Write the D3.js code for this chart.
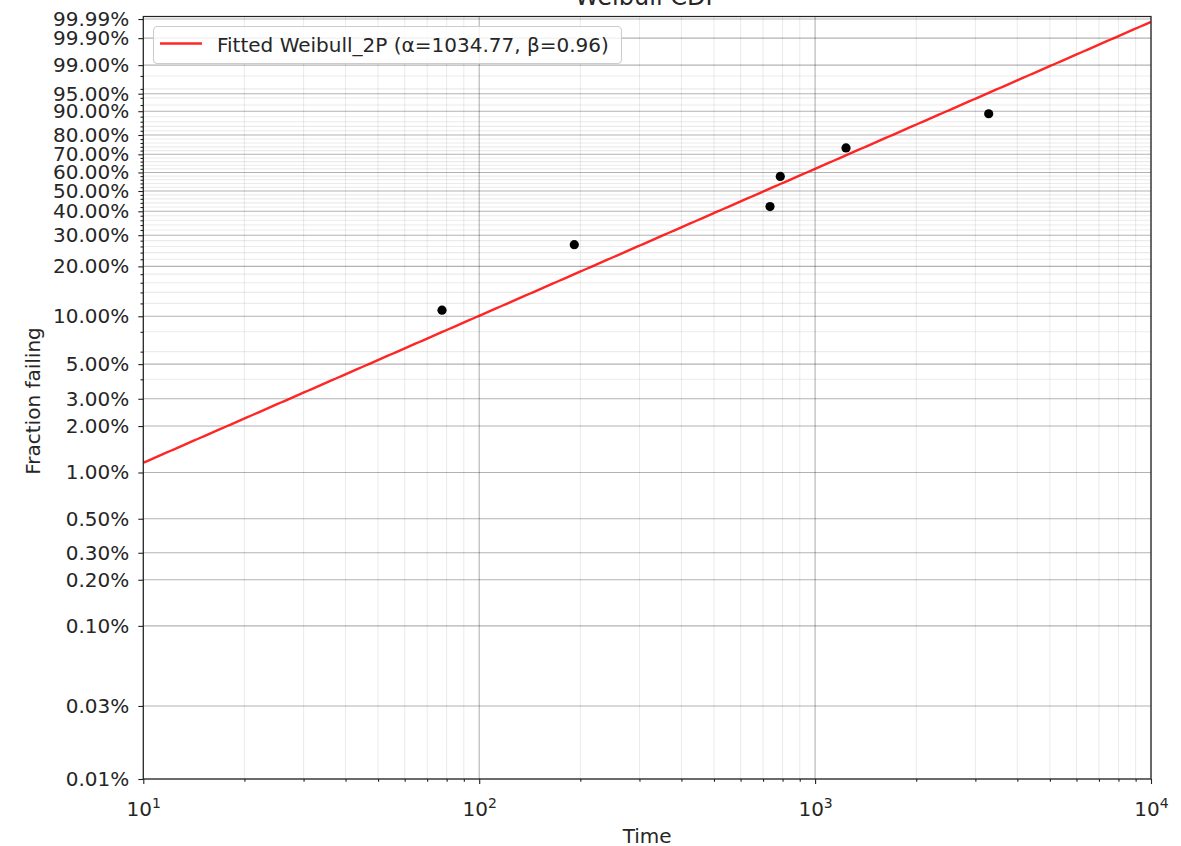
<!DOCTYPE html>
<html>
<head>
<meta charset="utf-8">
<script src="https://cdn.jsdelivr.net/npm/d3@7"></script>
<style>
  body { margin: 0; background: #fff; }
  text { font-family: "DejaVu Sans", sans-serif; fill: #262626; }
</style>
</head>
<body>
<svg id="chart" width="1181" height="846"></svg>
<script>
// Failure data (median-rank plotting positions)
const failureTimes = [77.5, 191.9, 734, 787.7, 1236, 3287];
const fractionFailing = [0.109, 0.266, 0.422, 0.578, 0.734, 0.891];

// Fitted Weibull 2-parameter model
const fitAlpha = 1034.77;
const fitBeta = 0.96;
const legendLabel = "Fitted Weibull_2P (α=1034.77, β=0.96)";

// Axis ticks
const xTickValues = [10, 100, 1000, 10000];
const xTickExponents = ["1", "2", "3", "4"];
const yTickValues = [0.0001, 0.0003, 0.001, 0.002, 0.003, 0.005, 0.01, 0.02, 0.03, 0.05,
                     0.1, 0.2, 0.3, 0.4, 0.5, 0.6, 0.7, 0.8, 0.9, 0.95, 0.99, 0.999, 0.9999];
const yLimits = [0.0001, 0.99993];

const svg = d3.select("#chart");
const W = 1181, H = 846;
const plot = { left: 143.3, right: 1151, top: 16.5, bottom: 779 };

svg.append("rect").attr("width", W).attr("height", H).attr("fill", "#fff");

// Weibull probability-paper transform
const weib = p => Math.log(-Math.log(1 - p));

const x = d3.scaleLog().domain([xTickValues[0], xTickValues[xTickValues.length - 1]])
  .range([plot.left, plot.right]);
const yLin = d3.scaleLinear().domain(yLimits.map(weib)).range([plot.bottom, plot.top]);
const y = p => yLin(weib(p));

// Minor tick positions
const xMinor = [];
xTickValues.slice(0, -1).forEach(d => { for (let k = 2; k <= 9; k++) xMinor.push(d * k); });
const yMinor = d3.range(1, 50).map(i => +(i * 0.02).toFixed(2))
  .filter(p => !yTickValues.some(t => Math.abs(t - p) < 1e-9));

const grid = svg.append("g");
// minor grid
grid.selectAll(".xm").data(xMinor).join("line")
  .attr("x1", d => x(d)).attr("x2", d => x(d)).attr("y1", plot.top).attr("y2", plot.bottom)
  .attr("stroke", "#000").attr("stroke-opacity", 0.08).attr("stroke-width", 1.1);
grid.selectAll(".ym").data(yMinor).join("line")
  .attr("x1", plot.left).attr("x2", plot.right).attr("y1", d => y(d)).attr("y2", d => y(d))
  .attr("stroke", "#000").attr("stroke-opacity", 0.08).attr("stroke-width", 1.1);
// major grid
grid.selectAll(".xM").data(xTickValues).join("line")
  .attr("x1", d => x(d)).attr("x2", d => x(d)).attr("y1", plot.top).attr("y2", plot.bottom)
  .attr("stroke", "#000").attr("stroke-opacity", 0.3).attr("stroke-width", 1.1);
grid.selectAll(".yM").data(yTickValues).join("line")
  .attr("x1", plot.left).attr("x2", plot.right).attr("y1", d => y(d)).attr("y2", d => y(d))
  .attr("stroke", "#000").attr("stroke-opacity", 0.3).attr("stroke-width", 1.1);

// clip for the fitted CDF
svg.append("clipPath").attr("id", "plotclip").append("rect")
  .attr("x", plot.left).attr("y", plot.top)
  .attr("width", plot.right - plot.left).attr("height", plot.bottom - plot.top);

const cdf = t => 1 - Math.exp(-Math.pow(t / fitAlpha, fitBeta));
const tSamples = d3.range(0, 301).map(i => Math.pow(10, 1 + 3 * i / 300));
svg.append("path")
  .datum(tSamples)
  .attr("clip-path", "url(#plotclip)")
  .attr("fill", "none")
  .attr("stroke", "red").attr("stroke-opacity", 0.85).attr("stroke-width", 2.4)
  .attr("d", d3.line().x(t => x(t)).y(t => y(cdf(t))));

// data points
svg.append("g").selectAll("circle").data(failureTimes).join("circle")
  .attr("cx", d => x(d)).attr("cy", (d, i) => y(fractionFailing[i]))
  .attr("r", 4.6).attr("fill", "#000");

// axes
const fs = 20;
const xAxis = d3.axisBottom(x).tickValues(xTickValues).tickSize(5).tickPadding(7).tickFormat("");
const gx = svg.append("g").attr("transform", `translate(0,${plot.bottom})`).call(xAxis);
const xMinorAxis = d3.axisBottom(x).tickValues(xMinor).tickSize(2.8).tickFormat("");
const gxm = svg.append("g").attr("transform", `translate(0,${plot.bottom})`).call(xMinorAxis);
const yAxisG = svg.append("g").attr("transform", `translate(${plot.left},0)`);
const yScaleProxy = d3.scaleLinear().domain(yLin.domain()).range(yLin.range());
const yAxis = d3.axisLeft(yScaleProxy).tickValues(yTickValues.map(weib)).tickSize(5)
  .tickPadding(9).tickFormat((d, i) => d3.format(".2%")(yTickValues[i]));
yAxisG.call(yAxis);
const yMinorAxis = d3.axisLeft(yScaleProxy).tickValues(yMinor.map(weib)).tickSize(2.8).tickFormat("");
svg.append("g").attr("transform", `translate(${plot.left},0)`).call(yMinorAxis)
  .call(g => g.select(".domain").remove());
gxm.select(".domain").remove();

svg.selectAll(".tick line").attr("stroke", "#222").attr("stroke-width", 1.1);
svg.selectAll(".domain").remove();
yAxisG.selectAll(".tick text").attr("font-size", fs).attr("fill", "#262626")
  .style("font-family", '"DejaVu Sans", sans-serif');

// x tick labels: 10 with superscript exponent
gx.selectAll(".tick").each(function (d, i) {
  const t = d3.select(this).append("text")
    .attr("y", 37).attr("text-anchor", "middle").attr("font-size", fs).attr("fill", "#262626");
  t.append("tspan").text("10");
  t.append("tspan").attr("font-size", fs * 0.7).attr("dy", -8).text(xTickExponents[i]);
});

// frame
svg.append("rect").attr("x", plot.left).attr("y", plot.top)
  .attr("width", plot.right - plot.left).attr("height", plot.bottom - plot.top)
  .attr("fill", "none").attr("stroke", "#222").attr("stroke-width", 1.2);

// titles
svg.append("text").attr("x", (plot.left + plot.right) / 2).attr("y", 4.5)
  .attr("text-anchor", "middle").attr("font-size", 24).text("Weibull CDF");
svg.append("text").attr("x", (plot.left + plot.right) / 2).attr("y", 843)
  .attr("text-anchor", "middle").attr("font-size", fs).text("Time");
svg.append("text").attr("transform", "translate(40,401) rotate(-90)")
  .attr("text-anchor", "middle").attr("font-size", fs).text("Fraction failing");

// legend
const lg = svg.append("g");
lg.append("rect").attr("x", 153.5).attr("y", 26.5).attr("width", 468).attr("height", 37)
  .attr("rx", 4).attr("fill", "#fff").attr("fill-opacity", 0.8)
  .attr("stroke", "#ccc").attr("stroke-width", 1.1);
lg.append("line").attr("x1", 160).attr("x2", 202).attr("y1", 43.5).attr("y2", 43.5)
  .attr("stroke", "red").attr("stroke-opacity", 0.85).attr("stroke-width", 2.4);
lg.append("text").attr("x", 217).attr("y", 51.5).attr("font-size", fs).text(legendLabel);
</script>
</body>
</html>
